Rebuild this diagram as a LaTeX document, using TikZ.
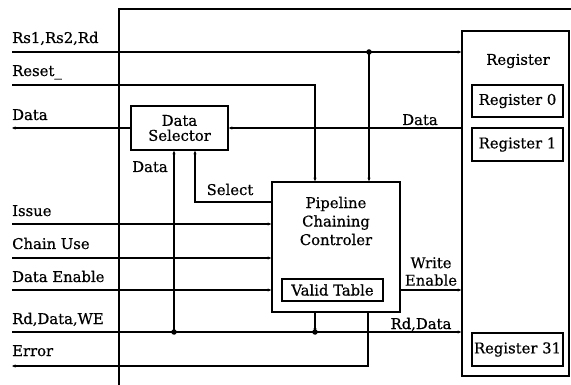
\documentclass[tikz,border=0pt]{standalone}
\usepackage{fontspec}
\setmainfont{DejaVu Serif}
\newfontfamily\lblfont{DejaVu Serif}[FakeBold=0.6]
\usetikzlibrary{arrows.meta}
\begin{document}
\begin{tikzpicture}[x=1pt,y=-1pt,
  font=\lblfont\fontsize{14.8}{17}\selectfont,
  wire/.style={line width=1.2pt},
  tip/.style={wire,-{Stealth[length=3.5pt,width=3pt]}},
  blk/.style={draw,line width=1.4pt,inner sep=0pt},
  pinlabel/.style={anchor=base west,inner sep=0pt},
  dot/.style={circle,fill,inner sep=0pt,minimum size=5.5pt}]
\useasboundingbox (0,0) rectangle (571,385);

% chip outline (left and top edges)
\draw[line width=1.3pt] (571,9) -- (119,9) -- (119,385);

% blocks
\node[blk,minimum width=97pt,minimum height=44pt,align=center] (sel) at (179.5,128) {Data\\[-2pt]Selector};
\node[blk,minimum width=128pt,minimum height=130pt] (ctrl) at (336,247) {};
\node[align=center,inner sep=0pt,font=\lblfont\fontsize{14.8}{18.5}\selectfont] (ctrltxt) at (336,221) {Pipeline\\Chaining\\Controler};
\node[blk,minimum width=101pt,minimum height=22pt] (vt) at (332.5,290) {Valid Table};
\node[blk,minimum width=107pt,minimum height=345pt] (reg) at (515.5,203.5) {};
\node[inner sep=0pt] (regtxt) at (518,61) {Register};
\node[blk,minimum width=91pt,minimum height=32pt] (r0) at (517.5,101) {Register 0};
\node[blk,minimum width=91pt,minimum height=33pt] (r1) at (517.5,144.5) {Register 1};
\node[blk,minimum width=91pt,minimum height=33pt] (r31) at (517.5,349.5) {Register 31};

% external pins
\coordinate (pRs) at (12,52);
\coordinate (pReset) at (12,85);
\coordinate (pData) at (12,128);
\coordinate (pIssue) at (12,224);
\coordinate (pChain) at (12,258);
\coordinate (pDE) at (12,290);
\coordinate (pRdW) at (12,332);
\coordinate (pErr) at (12,366);

\node[pinlabel] (lRs) at (12,43) {Rs1,Rs2,Rd};
\node[pinlabel] (lReset) at (12,76) {Reset\_};
\node[pinlabel] (lData) at (12,120) {Data};
\node[pinlabel] (lIssue) at (12,216) {Issue};
\node[pinlabel] (lChain) at (12,249) {Chain Use};
\node[pinlabel] (lDE) at (12,282) {Data Enable};
\node[pinlabel] (lRdW) at (12,324) {Rd,Data,WE};
\node[pinlabel] (lErr) at (12,356) {Error};

% junctions
\coordinate (jRs) at (369,52);
\coordinate (jSelData) at (174,332);
\coordinate (jCtrl) at (315,332);
\coordinate (jErr) at (368,366);

% register addresses
\draw[tip] (pRs) -- (pRs -| reg.west);
\draw[tip] (jRs) -- (jRs |- ctrl.north);
\node[dot] (dRs) at (jRs) {};

% reset
\draw[tip] (pReset) -- (315,85) -- (315,85 |- ctrl.north);

% data out of the selector, data read from the registers
\draw[tip] (pData -| sel.west) -- (pData);
\draw[tip] (pData -| reg.west) -- (pData -| sel.east);
\node[anchor=base,inner sep=0pt] (lRegData) at (420,125) {Data};

% data path into the selector
\draw[tip] (jSelData) -- (jSelData |- sel.south);
\node[anchor=base,inner sep=0pt] (lSelData) at (150,172) {Data};
\node[dot] (dSel) at (jSelData) {};

% select signal
\draw[tip] (ctrl.west |- 0,202) -- (195,202) -- (195,202 |- sel.south);
\node[anchor=base,inner sep=0pt] (lSelect) at (230,195) {Select};

% control inputs
\draw[tip] (pIssue) -- (pIssue -| ctrl.west);
\draw[tip] (pChain) -- (pChain -| ctrl.west);
\draw[tip] (pDE) -- (pDE -| ctrl.west);

% write bus
\draw[tip] (pRdW) -- (pRdW -| reg.west);
\draw[tip] (jCtrl |- ctrl.south) -- (jCtrl);
\node[dot] (dCtrl) at (jCtrl) {};
\node[anchor=base,inner sep=0pt] (lRdData) at (421,329) {Rd,Data};

% error
\draw[tip] (jErr |- ctrl.south) -- (jErr) -- (pErr);

% write enable
\draw[tip] (ctrl.east |- 0,290) -- (reg.west |- 0,290);
\node[align=center,inner sep=0pt,anchor=south,font=\lblfont\fontsize{14.8}{17.5}\selectfont] (lWE) at (431,286) {Write\\Enable};
\end{tikzpicture}
\end{document}
